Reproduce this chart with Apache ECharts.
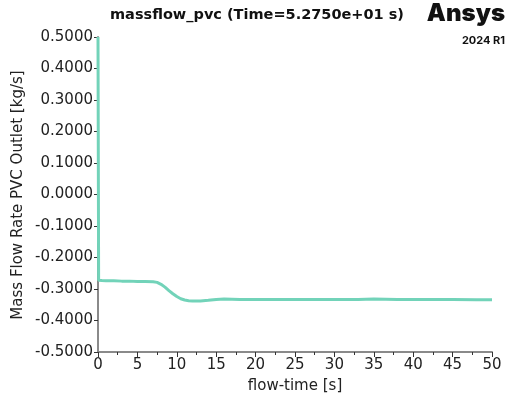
<!DOCTYPE html>
<html>
<head>
    <meta charset="utf-8">
    <title>massflow_pvc</title>
    <script src="https://cdn.jsdelivr.net/npm/echarts@6/dist/echarts.min.js"></script>
    <style>
        html, body { margin: 0; padding: 0; background: #fff; }
        #main { width: 510px; height: 405px; }
    </style>
</head>
<body>
<div id="main"></div>
<script>
    // 数据
    var times = [0, 0.08, 0.5, 1, 2, 3, 4, 5, 6, 7, 7.5, 8, 8.5, 9, 9.5, 10, 10.5, 11, 11.5, 12, 13, 14, 15, 16, 18, 20, 22, 25, 28, 30, 33, 35, 38, 40, 43, 45, 48, 50];
    var massFlow = [0.5, -0.272, -0.273, -0.274, -0.274, -0.275, -0.275, -0.276, -0.276, -0.277, -0.279, -0.285, -0.294, -0.305, -0.315, -0.324, -0.331, -0.335, -0.337, -0.338, -0.338, -0.336, -0.333, -0.332, -0.333, -0.333, -0.333, -0.333, -0.333, -0.333, -0.333, -0.332, -0.333, -0.333, -0.333, -0.333, -0.334, -0.334];
    var yMin = -0.5, yMax = 0.5, yStep = 0.1;
    var xMin = 0, xMax = 50, xStep = 5;

    var chart = echarts.init(document.getElementById('main'));
    var font = '"DejaVu Sans", Verdana, sans-serif';
    var logoFont = 'Inter, "Noto Sans", sans-serif';
    var axisGray = '#8a8a8a';

    var pts = times.map(function (t, i) { return [t, massFlow[i]]; });

    chart.setOption({
        animation: false,
        title: {
            text: 'massflow_pvc (Time=5.2750e+01 s)',
            left: 252,
            top: 3,
            textAlign: 'center',
            textStyle: { fontFamily: font, fontSize: 14.5, fontWeight: 'bold', color: '#111' }
        },
        graphic: [
            {
                type: 'text', right: 5, top: 2,
                style: { text: 'Ansys', font: '900 24px ' + logoFont, fill: '#111' }
            },
            {
                type: 'text', right: 5, top: 35,
                style: { text: '2024 R1', font: 'bold 11px ' + logoFont, fill: '#111' }
            },
            {
                // y 轴标题
                type: 'text', x: 18, y: 195, rotation: Math.PI / 2,
                style: {
                    text: 'Mass Flow Rate PVC Outlet [kg/s]',
                    font: '15px ' + font,
                    fill: '#222', textAlign: 'center', textVerticalAlign: 'middle'
                }
            }
        ],
        grid: { left: 98, right: 18, top: 37, bottom: 53 },
        xAxis: {
            type: 'value',
            min: xMin, max: xMax, interval: xStep,
            name: 'flow-time [s]',
            nameLocation: 'middle',
            nameGap: 27,
            nameTextStyle: { fontFamily: font, fontSize: 15, color: '#222' },
            axisLine: { show: true, onZero: false, lineStyle: { color: axisGray, width: 2 } },
            axisTick: { show: true, length: 5, lineStyle: { color: '#333' } },
            minorTick: { show: true, splitNumber: 2, length: 3, lineStyle: { color: '#333' } },
            splitLine: { show: false },
            axisLabel: { fontFamily: font, fontSize: 15, color: '#222', margin: 6 }
        },
        yAxis: {
            type: 'value',
            min: yMin, max: yMax, interval: yStep,
            axisLine: { show: true, onZero: false, lineStyle: { color: axisGray, width: 2 } },
            axisTick: { show: true, length: 4, lineStyle: { color: '#333' } },
            splitLine: { show: false },
            axisLabel: {
                fontFamily: font, fontSize: 15, color: '#222', margin: 5,
                formatter: function (v) { return v.toFixed(4); }
            }
        },
        series: [{
            type: 'line',
            data: pts,
            showSymbol: false,
            smooth: false,
            lineStyle: { color: '#72d3b9', width: 3 },
            z: 1
        }]
    });
</script>
</body>
</html>
